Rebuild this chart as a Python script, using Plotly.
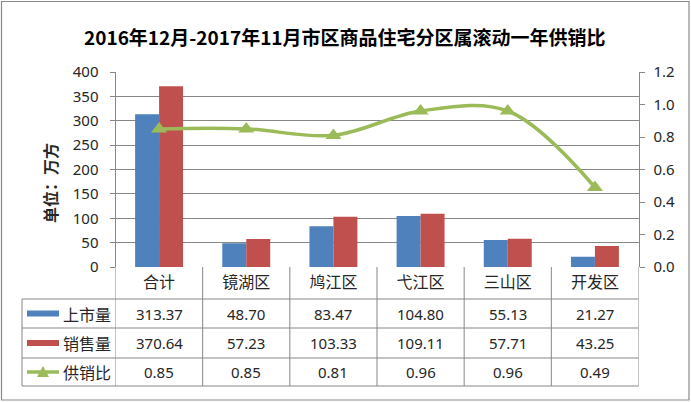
import plotly.graph_objects as go

W, H = 691, 402

title = "2016年12月-2017年11月市区商品住宅分区属滚动一年供销比"
categories = ["合计", "镜湖区", "鸠江区", "弋江区", "三山区", "开发区"]
supply = [313.37, 48.70, 83.47, 104.80, 55.13, 21.27]
sales = [370.64, 57.23, 103.33, 109.11, 57.71, 43.25]
ratio = [0.85, 0.85, 0.81, 0.96, 0.96, 0.49]
series_names = ["上市量", "销售量", "供销比"]
y_title = "单位：万方"

BLUE = "#4F81BD"
RED = "#C0504D"
GREEN = "#9BBB59"
GRID = "#878787"
TXT = "#262626"


def px(x):
    return x / W


def py(y):
    return 1 - y / H


X0, X1 = 115.5, 638.5
Y_TOP, Y_BOT = 72, 267
ROW_LINES = [299, 328, 358, 386]
ROW_CENTERS = [313.5, 343, 372]
TABLE_LEFT = 22

fig = go.Figure()
fig.add_trace(go.Bar(x=categories, y=supply, name=series_names[0],
                     marker=dict(color=BLUE, line=dict(width=0)), yaxis="y"))
fig.add_trace(go.Bar(x=categories, y=sales, name=series_names[1],
                     marker=dict(color=RED, line=dict(width=0)), yaxis="y"))
fig.add_trace(go.Scatter(x=categories, y=ratio, name=series_names[2], yaxis="y2",
                         mode="lines+markers",
                         line=dict(color=GREEN, width=3.5, shape="spline", smoothing=1),
                         marker=dict(symbol="triangle-up", size=14, color=GREEN)))

shapes = []
annotations = []

# table horizontal lines
for yl in ROW_LINES:
    shapes.append(dict(type="line", xref="paper", yref="paper",
                       x0=px(TABLE_LEFT), x1=px(X1), y0=py(yl), y1=py(yl),
                       line=dict(color=GRID, width=1)))
# table vertical lines
shapes.append(dict(type="line", xref="paper", yref="paper",
                   x0=px(TABLE_LEFT), x1=px(TABLE_LEFT), y0=py(ROW_LINES[0]), y1=py(ROW_LINES[-1]),
                   line=dict(color=GRID, width=1)))
for i in range(len(categories) + 1):
    shapes.append(dict(type="line", xref="x", yref="paper",
                       x0=i - 0.5, x1=i - 0.5, y0=py(Y_BOT), y1=py(ROW_LINES[-1]),
                       line=dict(color=GRID, width=1)))
# outer border
shapes.append(dict(type="rect", xref="paper", yref="paper",
                   x0=px(1.5), x1=px(689), y0=py(400), y1=py(1.5),
                   line=dict(color="#8a8a8a", width=1.2)))

# legend keys in table
shapes.append(dict(type="rect", xref="paper", yref="paper",
                   x0=px(27), x1=px(59), y0=py(ROW_CENTERS[0] + 3), y1=py(ROW_CENTERS[0] - 3),
                   fillcolor=BLUE, line=dict(width=0)))
shapes.append(dict(type="rect", xref="paper", yref="paper",
                   x0=px(27), x1=px(59), y0=py(ROW_CENTERS[1] + 3), y1=py(ROW_CENTERS[1] - 3),
                   fillcolor=RED, line=dict(width=0)))
shapes.append(dict(type="line", xref="paper", yref="paper",
                   x0=px(27), x1=px(59), y0=py(ROW_CENTERS[2]), y1=py(ROW_CENTERS[2]),
                   line=dict(color=GREEN, width=3.5)))
shapes.append(dict(type="path", xref="paper", yref="paper",
                   path="M {} {} L {} {} L {} {} Z".format(px(37), py(ROW_CENTERS[2] + 5),
                                                          px(49), py(ROW_CENTERS[2] + 5),
                                                          px(43), py(ROW_CENTERS[2] - 6)),
                   fillcolor=GREEN, line=dict(width=0)))

for r, name in enumerate(series_names):
    annotations.append(dict(x=px(61), y=py(ROW_CENTERS[r]), xref="paper", yref="paper",
                            text=name, showarrow=False, xanchor="left", yanchor="middle",
                            font=dict(family="Noto Sans CJK SC", size=16, color=TXT)))

rows = [supply, sales, ratio]
for r, vals in enumerate(rows):
    for c, v in zip(categories, vals):
        annotations.append(dict(x=c, y=py(ROW_CENTERS[r]), xref="x", yref="paper",
                                text="{:.2f}".format(v), showarrow=False,
                                xanchor="center", yanchor="middle",
                                font=dict(family="Noto Sans", size=15, color=TXT)))

annotations.append(dict(x=px(50), y=py(183), xref="paper", yref="paper",
                        text="<b>" + y_title + "</b>", textangle=-90, showarrow=False,
                        xanchor="center", yanchor="middle",
                        font=dict(family="Noto Sans CJK SC", size=16, color=TXT)))

annotations.append(dict(x=px(345), y=py(36), xref="paper", yref="paper",
                        text="<b>" + title + "</b>", showarrow=False,
                        xanchor="center", yanchor="middle",
                        font=dict(family="Noto Sans CJK SC", size=19, color="#000000")))

fig.update_layout(
    template="none",
    width=W, height=H,
    autosize=False,
    margin=dict(l=0, r=0, t=0, b=0, pad=0),
    paper_bgcolor="white", plot_bgcolor="white",
    showlegend=False,
    barmode="group", bargap=0.45, bargroupgap=0,
    xaxis=dict(domain=[px(X0), px(X1)], type="category", range=[-0.5, 5.5],
               automargin=False,
               showgrid=False, showline=False, zeroline=False, ticks="",
               tickfont=dict(family="Noto Sans CJK SC", size=16, color=TXT),
               ticklabelstandoff=4),
    yaxis=dict(domain=[py(Y_BOT), py(Y_TOP)], range=[0, 400], dtick=50,
               automargin=False,
               showgrid=True, gridcolor=GRID, gridwidth=1, zeroline=False,
               showline=True, linecolor=GRID, linewidth=1,
               ticks="outside", ticklen=5, tickcolor=GRID,
               tickfont=dict(family="Noto Sans", size=15, color=TXT),
               ticklabelstandoff=8),
    yaxis2=dict(overlaying="y", side="right", range=[0, 1.2], dtick=0.2, tickformat=".1f",
                automargin=False,
                showgrid=False, zeroline=False, showline=True, linecolor=GRID, linewidth=1,
                ticks="outside", ticklen=5, tickcolor=GRID,
                tickfont=dict(family="Noto Sans", size=15, color=TXT),
                ticklabelstandoff=6),
    shapes=shapes,
    annotations=annotations,
)

fig.write_html("out.html", config={"displayModeBar": False},
               post_script="document.body.style.margin='0';document.body.style.overflow='hidden';")
